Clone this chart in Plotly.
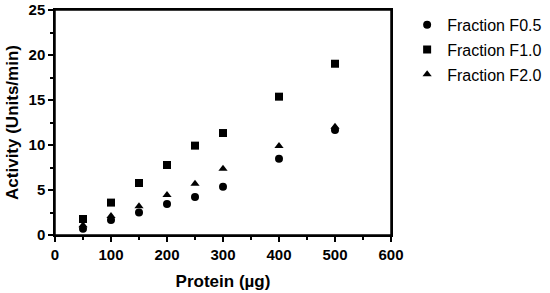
import plotly.graph_objects as go

protein = [50, 100, 150, 200, 250, 300, 400, 500]
f05 = [0.7, 1.67, 2.5, 3.44, 4.22, 5.37, 8.48, 11.67]
f10 = [1.78, 3.6, 5.78, 7.78, 9.93, 11.33, 15.37, 19.03]
f20 = [1.07, 2.1, 3.2, 4.44, 5.7, 7.37, 9.9, 12.03]

series = [("Fraction F0.5", f05, "circle"),
          ("Fraction F1.0", f10, "square"),
          ("Fraction F2.0", f20, "triangle-up")]

fig = go.Figure()
for i, (name, vals, sym) in enumerate(series):
    fig.add_trace(go.Scatter(
        x=protein, y=vals, mode="markers", name=name, legendgroup=str(i),
        marker=dict(symbol=sym, size=8, color="black", line=dict(width=0)),
        cliponaxis=False,
    ))

font_family = "Liberation Sans, Arial, sans-serif"
axis_common = dict(
    showline=True, linecolor="black", linewidth=1.5, mirror=True,
    ticks="outside", ticklen=5, tickwidth=1.5, tickcolor="black",
    showgrid=False, zeroline=False,
    tickfont=dict(family=font_family, size=15, color="black", weight="bold"),
)

fig.update_xaxes(range=[0, 600], tick0=0, dtick=100,
                 minor=dict(ticks="outside", dtick=50, ticklen=3, tickwidth=1.5, tickcolor="black"),
                 title=dict(text="Protein (µg)", font=dict(family=font_family, size=17, color="black", weight="bold"), standoff=13),
                 **axis_common)
fig.update_yaxes(range=[0, 25], tick0=0, dtick=5,
                 minor=dict(ticks="outside", dtick=2.5, ticklen=3, tickwidth=1.5, tickcolor="black"),
                 title=dict(text="Activity (Units/min)", font=dict(family=font_family, size=17, color="black", weight="bold"), standoff=6),
                 **axis_common)

fig.add_shape(type="rect", xref="paper", yref="paper", x0=0, x1=1, y0=0, y1=1,
              line=dict(color="black", width=1.5), layer="above")

fig.update_layout(
    width=550, height=293,
    margin=dict(l=55, r=159, t=10, b=58, autoexpand=False),
    plot_bgcolor="white", paper_bgcolor="white",
    showlegend=True,
    legend=dict(x=1.048, y=1.01, xanchor="left", yanchor="top",
                font=dict(family=font_family, size=16, color="black"),
                tracegroupgap=1, bgcolor="rgba(0,0,0,0)"),
)

fig.write_html("out.html", config={"displayModeBar": False},
               post_script="document.body.style.margin='0';")
